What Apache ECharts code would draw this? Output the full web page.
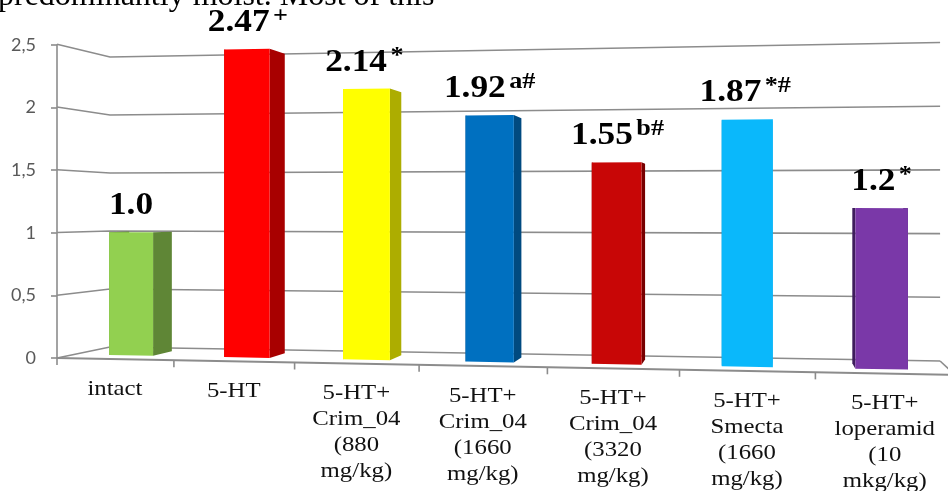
<!DOCTYPE html>
<html>
<head>
<meta charset="utf-8">
<style>html,body{margin:0;padding:0;background:#fff;overflow:hidden}#c{width:948px;height:491px}</style>
<script src="https://cdn.jsdelivr.net/npm/echarts@6/dist/echarts.min.js"></script>
</head>
<body>
<div id="c"></div>
<script>
// ---------- data ----------
var categories = ['intact', '5-HT', '5-HT+\nCrim_04\n(880\nmg/kg)', '5-HT+\nCrim_04\n(1660\nmg/kg)', '5-HT+\nCrim_04\n(3320\nmg/kg)', '5-HT+\nSmecta\n(1660\nmg/kg)', '5-HT+\nloperamid\n(10\nmkg/kg)'];
var values = [1.0, 2.47, 2.14, 1.92, 1.55, 1.87, 1.2];
var valueTexts = ['1.0', '2.47', '2.14', '1.92', '1.55', '1.87', '1.2'];
var valueMarks = ['', '+', '*', 'a#', 'b#', '*#', '*'];
var yTicks = [0, 0.5, 1, 1.5, 2, 2.5];
// ---------- styles ----------
var faceColors = ['#92d050', '#ff0000', '#ffff00', '#0070c0', '#c80606', '#0ab8fb', '#7a38a8'];
var sideColors = ['#5f8636', '#a80000', '#adad00', '#004a80', '#780000', '#0890c8', '#3e1d5c'];
var labelShift = [0, 1, -2, 0, 1, -2, 0];
var lineColor = '#8c8c8c';
var serif = '"Liberation Serif","Times New Roman",serif';

// ---------- perspective of the chart box ----------
var gridLeft = 57, gridTop = 45, gridHeight = 313, gridWidth = 891;
var band = gridWidth / 7, barHalf = 0.193, faceDepth = 0.33, rearDepth = 0.73;
function warp(u, v, d) {
  var xf = gridLeft + 115 * u + 1.9 * u * u;
  var t = (xf - gridLeft) / 898;
  var xb = 110 + 830 * t;
  var yf = gridTop + gridHeight + 17 * t - v * (125.5 + 13.5 * t);
  var yb = 347 + 14 * t - v * (116 + 11.4 * t);
  return [xf + d * (xb - xf), yf + d * (yb - yf)];
}
// turn the library's scale output into (band position, value)
function fromAxes(api, i, v) {
  var p = api.coord([i, v]);
  return { u: (p[0] - gridLeft) / band, v: (gridTop + gridHeight - p[1]) / (gridHeight / 2.5) };
}
function poly(points, fill) {
  return { type: 'polygon', shape: { points: points }, style: { fill: fill, stroke: null } };
}
function line(points, w) {
  return { type: 'polyline', shape: { points: points }, style: { fill: null, stroke: lineColor, lineWidth: w || 1.6 } };
}

function renderWall(params, api) {
  var q = fromAxes(api, 0, api.value(1));
  var kids = [line([warp(0, q.v, 0), warp(0, q.v, 1), warp(7, q.v, 1)])];
  if (q.v === 0) {
    kids.push(line([warp(7, 0, 1), warp(7, 0, 0)]));
    kids.push(line([warp(0, 0, 0), warp(7, 0, 0)], 2));
    for (var k = 0; k <= 6; k++) {
      var a = warp(k, 0, 0);
      kids.push(line([a, [a[0], a[1] + 7]]));
    }
  }
  return { type: 'group', children: kids };
}

function renderBar(params, api) {
  var i = api.value(0), val = api.value(1);
  var q = fromAxes(api, i, val), u0 = q.u - barHalf, u1 = q.u + barHalf;
  var kids = [
    poly([warp(u0, 0, faceDepth), warp(u0, q.v, faceDepth), warp(u0, q.v, rearDepth), warp(u0, 0, rearDepth)], sideColors[i]),
    poly([warp(u1, 0, faceDepth), warp(u1, q.v, faceDepth), warp(u1, q.v, rearDepth), warp(u1, 0, rearDepth)], sideColors[i]),
    poly([warp(u0, 0, faceDepth), warp(u0, q.v, faceDepth), warp(u1, q.v, faceDepth), warp(u1, 0, faceDepth)], faceColors[i])
  ];
  var top = warp(q.u, q.v, faceDepth);
  var mark = valueMarks[i];
  kids.push({
    type: 'text', x: top[0] + labelShift[i], y: top[1] - 10.5, scaleX: 1.14,
    style: {
      text: '{m|' + valueTexts[i] + '}' + (mark ? '{s|' + mark + '}' : ''),
      align: 'center', verticalAlign: 'bottom',
      rich: {
        m: { fontFamily: serif, fontWeight: 'bold', fontSize: 31, fill: '#000', verticalAlign: 'bottom', lineHeight: 34 },
        s: { fontFamily: serif, fontWeight: 'bold', fontSize: 23, fill: '#000', verticalAlign: 'top', lineHeight: 25, padding: [0, 0, 0, 3] }
      }
    }
  });
  return { type: 'group', children: kids };
}

function renderCategory(params, api) {
  var i = params.dataIndex;
  var q = fromAxes(api, i, 0);
  var a = warp(q.u, 0, 0);
  return {
    type: 'text', x: a[0], y: a[1] + 17, scaleX: 1.18,
    style: {
      text: categories[i], align: 'center', verticalAlign: 'top',
      fontFamily: serif, fontSize: 21, lineHeight: 26, fill: '#111'
    }
  };
}

var chart = echarts.init(document.getElementById('c'), null, { renderer: 'canvas' });
chart.setOption({
  animation: false,
  backgroundColor: '#fff',
  tooltip: { show: false },
  grid: { left: gridLeft, top: gridTop, width: gridWidth, height: gridHeight, containLabel: false },
  xAxis: { type: 'category', data: categories, show: false },
  yAxis: {
    type: 'value', min: 0, max: 2.5, interval: 0.5,
    splitLine: { show: false },
    axisLine: { show: true, lineStyle: { color: lineColor, width: 1.6 } },
    axisTick: { show: true, length: 6, lineStyle: { color: lineColor, width: 1.6 } },
    axisLabel: {
      margin: 21, color: '#595959', fontFamily: 'Lato', fontSize: 18, padding: [7, 0, 0, 0],
      formatter: function (v) { return String(v).replace('.', ','); }
    }
  },
  graphic: [{
    type: 'text', left: -2, top: -19, z: 10,
    style: { text: 'predominantly moist. Most of this', fontFamily: serif, fontSize: 32, fill: '#000' }
  }],
  series: [
    { type: 'custom', name: 'walls', coordinateSystem: 'cartesian2d', clip: false, silent: true, z: 1,
      data: yTicks.map(function (v) { return [0, v]; }), renderItem: renderWall },
    { type: 'custom', name: 'bars', coordinateSystem: 'cartesian2d', clip: false, silent: true, z: 2,
      data: values.map(function (v, i) { return [i, v]; }), renderItem: renderBar },
    { type: 'custom', name: 'categories', coordinateSystem: 'cartesian2d', clip: false, silent: true, z: 3,
      data: categories.map(function (c, i) { return [i, 0]; }), renderItem: renderCategory }
  ]
});
</script>
</body>
</html>
